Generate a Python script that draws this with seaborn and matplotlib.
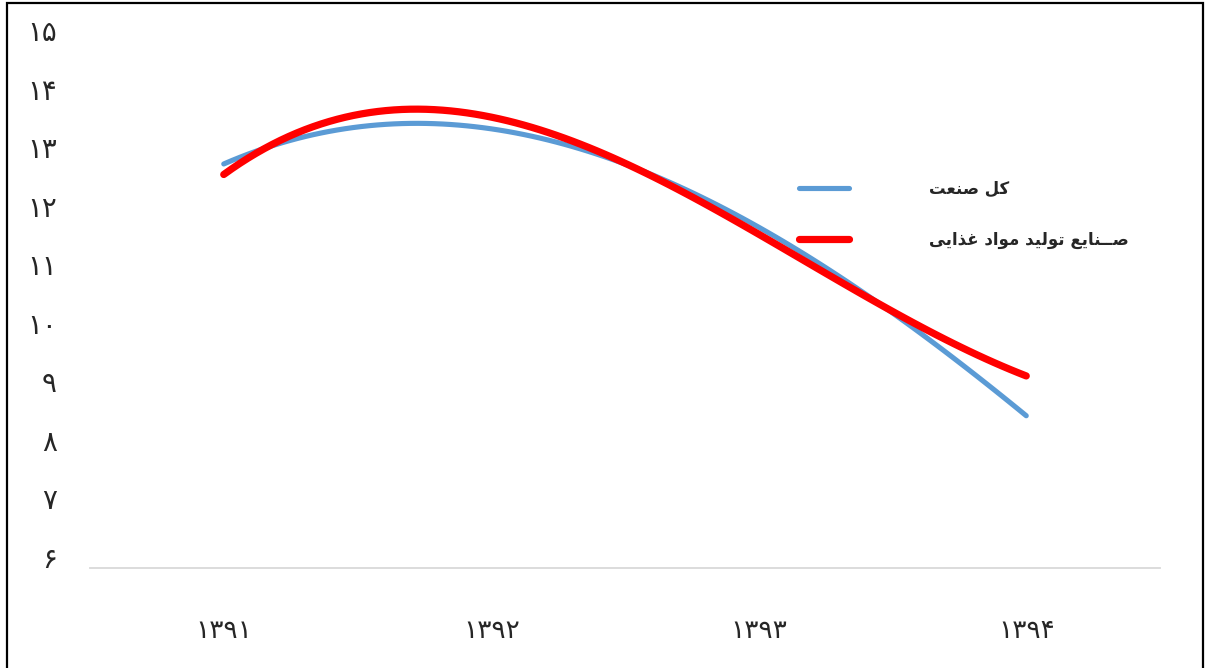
import numpy as np
import pandas as pd
import matplotlib
matplotlib.use("Agg")
import matplotlib.pyplot as plt
import matplotlib.transforms as mtransforms
import seaborn as sns
from matplotlib.patches import Rectangle

# ---- data ----
years = ["۱۳۹۱", "۱۳۹۲", "۱۳۹۳", "۱۳۹۴"]
total_industry = [12.9, 13.5, 11.82, 8.6]       # کل صنعت
food_industry = [12.72, 13.70, 11.70, 9.28]     # صنایع تولید مواد غذایی
y_ticks = [6, 7, 8, 9, 10, 11, 12, 13, 14, 15]
y_tick_labels = ["۶", "۷", "۸", "۹", "۱۰", "۱۱", "۱۲", "۱۳", "۱۴", "۱۵"]
# legend labels (Arabic presentation forms in visual order, since matplotlib does no shaping)
label_total = "\uFE96\uFECC\uFEE8\uFEBB \uFEDE\uFB90"
label_food = ("\uFBFD\uFBFE\uFE8D\uFEAC\uFECF \uFEA9\uFE8D\uFEEE\uFEE3 "
              "\uFEAA\uFBFF\uFEDF\uFEEE\uFE97 \uFECA\uFBFE\uFE8E\uFEE8\u0640\u0640\uFEBB")

sns.set_theme(style="white")
plt.rcParams['font.family'] = ['DejaVu Sans']

fig = plt.figure(figsize=(12.06, 6.68), dpi=100)
ax = fig.add_axes([90 / 1206, 1 - 568 / 668, (1160 - 90) / 1206, (568 - 41) / 668])

xpos = np.arange(len(years))
df = pd.DataFrame({"x": xpos, "total": total_industry, "food": food_industry})

# order-3 trend curves through the yearly values
sns.regplot(data=df, x="x", y="total", order=3, ci=None, scatter=False, truncate=True,
            ax=ax, label=label_total,
            line_kws={"color": "#5B9BD5", "lw": 3.7, "solid_capstyle": "round"})
sns.regplot(data=df, x="x", y="food", order=3, ci=None, scatter=False, truncate=True,
            ax=ax, label=label_food,
            line_kws={"color": "#FF0000", "lw": 5.2, "solid_capstyle": "round"})

ax.set_xlim(-0.5, 3.5)
ax.set_ylim(6, 15)
ax.set_xticks(xpos)
ax.set_xticklabels(years, fontsize=19)
ax.set_yticks(y_ticks)
ax.set_yticklabels(y_tick_labels, fontsize=20)
ax.set_xlabel("")
ax.set_ylabel("")
ax.tick_params(axis="x", length=0, pad=36)
ax.tick_params(axis="y", length=0, pad=24)
shift = mtransforms.ScaledTranslation(0, 11 / 100, fig.dpi_scale_trans)
for lab in ax.get_yticklabels():
    lab.set_transform(lab.get_transform() + shift)
for s in ["top", "right", "left"]:
    ax.spines[s].set_visible(False)
ax.spines["bottom"].set_color("#D9D9D9")
ax.spines["bottom"].set_linewidth(1.3)
ax.grid(False)

leg = ax.legend(loc="upper left", bbox_to_anchor=((784 - 90) / 1070, (568 - 165) / 527),
                frameon=False, handlelength=3.0, handletextpad=4.8, labelspacing=2.0,
                prop={"size": 12, "weight": "bold"})

# outer frame
fig.patches.append(Rectangle((7 / 1206, -0.02), (1203 - 7) / 1206, 1.02 - 3 / 668,
                             transform=fig.transFigure, fill=False, edgecolor="black",
                             linewidth=1.6, zorder=10))

fig.savefig("out.png", dpi=100)
